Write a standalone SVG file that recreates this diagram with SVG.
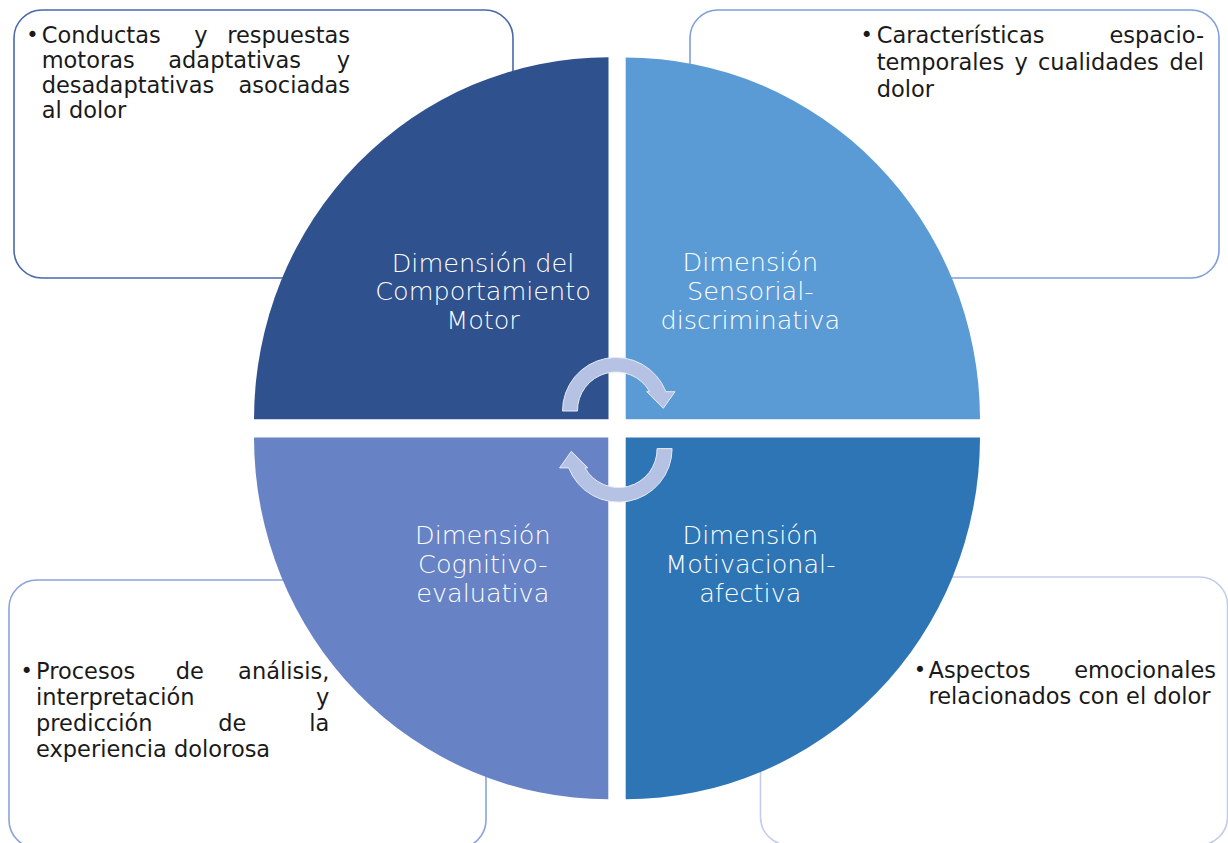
<svg xmlns="http://www.w3.org/2000/svg" width="1228" height="843" viewBox="0 0 1228 843">
  <style>
    .box { fill: #ffffff; stroke-width: 1.6; }
    .txt { font-family: "DejaVu Sans", "Liberation Sans", sans-serif; font-size: 22.5px; fill: #1a1a1a; }
    .bul { font-family: "DejaVu Sans", "Liberation Sans", sans-serif; font-size: 21px; fill: #1a1a1a; text-anchor: middle; }
    .end { text-anchor: end; }
    .lbl { font-family: "DejaVu Sans", "Liberation Sans", sans-serif; font-size: 25.5px; font-weight: 200; fill: #ffffff; text-anchor: middle; }
    .cyc { fill: #b5c2e3; stroke: #e6ebf6; stroke-width: 1; }
  </style>

  <!-- description boxes behind the circle -->
  <g id="box-motor">
    <rect class="box" x="14" y="10" width="499" height="268" rx="28" stroke="#4a69aa"/>
    <text class="bul" x="32.5" y="42">•</text>
    <text class="txt" x="41.7" y="43">Conductas</text>
    <text class="txt" x="194.3" y="43">y</text>
    <text class="txt end" x="350" y="43">respuestas</text>
    <text class="txt" x="41.7" y="68.3">motoras</text>
    <text class="txt" x="168.3" y="68.3">adaptativas</text>
    <text class="txt end" x="350" y="68.3">y</text>
    <text class="txt" x="41.7" y="93.3">desadaptativas</text>
    <text class="txt end" x="350" y="93.3">asociadas</text>
    <text class="txt" x="41.7" y="118.3">al dolor</text>
  </g>

  <g id="box-sensorial">
    <rect class="box" x="690" y="10" width="529" height="268" rx="28" stroke="#7f9fdb"/>
    <text class="bul" x="866.7" y="42.3">•</text>
    <text class="txt" x="876.7" y="43.3">Características</text>
    <text class="txt end" x="1204" y="43.3">espacio-</text>
    <text class="txt" x="876.7" y="70">temporales</text>
    <text class="txt" x="1014.5" y="70">y</text>
    <text class="txt" x="1038" y="70">cualidades</text>
    <text class="txt end" x="1204" y="70">del</text>
    <text class="txt" x="876.7" y="96.7">dolor</text>
  </g>

  <g id="box-cognitivo">
    <rect class="box" x="9" y="580" width="477" height="268" rx="28" stroke="#8aa3db"/>
    <text class="bul" x="26.7" y="678.3">•</text>
    <text class="txt" x="36" y="679.3">Procesos</text>
    <text class="txt" x="175.7" y="679.3">de</text>
    <text class="txt end" x="329.3" y="679.3">análisis,</text>
    <text class="txt" x="36" y="705">interpretación</text>
    <text class="txt end" x="329.3" y="705">y</text>
    <text class="txt" x="36" y="731">predicción</text>
    <text class="txt" x="218.3" y="731">de</text>
    <text class="txt end" x="329.3" y="731">la</text>
    <text class="txt" x="36" y="756.5">experiencia dolorosa</text>
  </g>

  <g id="box-motivacional">
    <rect class="box" x="760.5" y="577" width="467" height="268" rx="28" stroke="#c3cdea"/>
    <text class="bul" x="920" y="677.3">•</text>
    <text class="txt" x="928.5" y="678.3">Aspectos</text>
    <text class="txt end" x="1216" y="678.3">emocionales</text>
    <text class="txt" x="928.5" y="703.5">relacionados con el dolor</text>
  </g>

  <!-- the four quarter-circle dimensions -->
  <g id="dim-comportamiento-motor">
    <path d="M 608.5 419.3 L 254 419.3 A 354.5 362 0 0 1 608.5 57.3 Z" fill="#2f528f"/>
    <text class="lbl" x="483" y="271.7">Dimensión del</text>
    <text class="lbl" x="483" y="300.3">Comportamiento</text>
    <text class="lbl" x="483" y="329.3">Motor</text>
  </g>

  <g id="dim-sensorial-discriminativa">
    <path d="M 625.7 419.3 L 625.7 57.5 A 354.3 361.8 0 0 1 980 419.3 Z" fill="#5b9bd5"/>
    <text class="lbl" x="750.3" y="271.3">Dimensión</text>
    <text class="lbl" x="750.3" y="300.3">Sensorial-</text>
    <text class="lbl" x="750.3" y="329.3">discriminativa</text>
  </g>

  <g id="dim-cognitivo-evaluativa">
    <path d="M 608.3 437.5 L 608.3 799.3 A 354.3 361.8 0 0 1 254 437.5 Z" fill="#6783c5"/>
    <text class="lbl" x="482.8" y="544">Dimensión</text>
    <text class="lbl" x="482.8" y="573.3">Cognitivo-</text>
    <text class="lbl" x="482.8" y="601.7">evaluativa</text>
  </g>

  <g id="dim-motivacional-afectiva">
    <path d="M 625.7 437.5 L 980 437.5 A 354.3 361.8 0 0 1 625.7 799.3 Z" fill="#2e75b6"/>
    <text class="lbl" x="750.3" y="544">Dimensión</text>
    <text class="lbl" x="750.3" y="573.3">Motivacional-</text>
    <text class="lbl" x="750.3" y="601.7">afectiva</text>
  </g>

  <!-- cycle arrows in the centre -->
  <g id="connectors">
    <path id="cycle-top" class="cyc" d="M 562.5 411 A 53.5 53.5 0 0 1 665.9 391.7 L 675 391.7 L 663.3 408.3 L 646.7 391.7 L 649.6 391.7 A 38.5 38.5 0 0 0 577.5 411 Z"/>
    <path id="cycle-bottom" class="cyc" d="M 562.5 411 A 53.5 53.5 0 0 1 665.9 391.7 L 675 391.7 L 663.3 408.3 L 646.7 391.7 L 649.6 391.7 A 38.5 38.5 0 0 0 577.5 411 Z" transform="rotate(180 617.3 429.8)"/>
  </g>
</svg>
